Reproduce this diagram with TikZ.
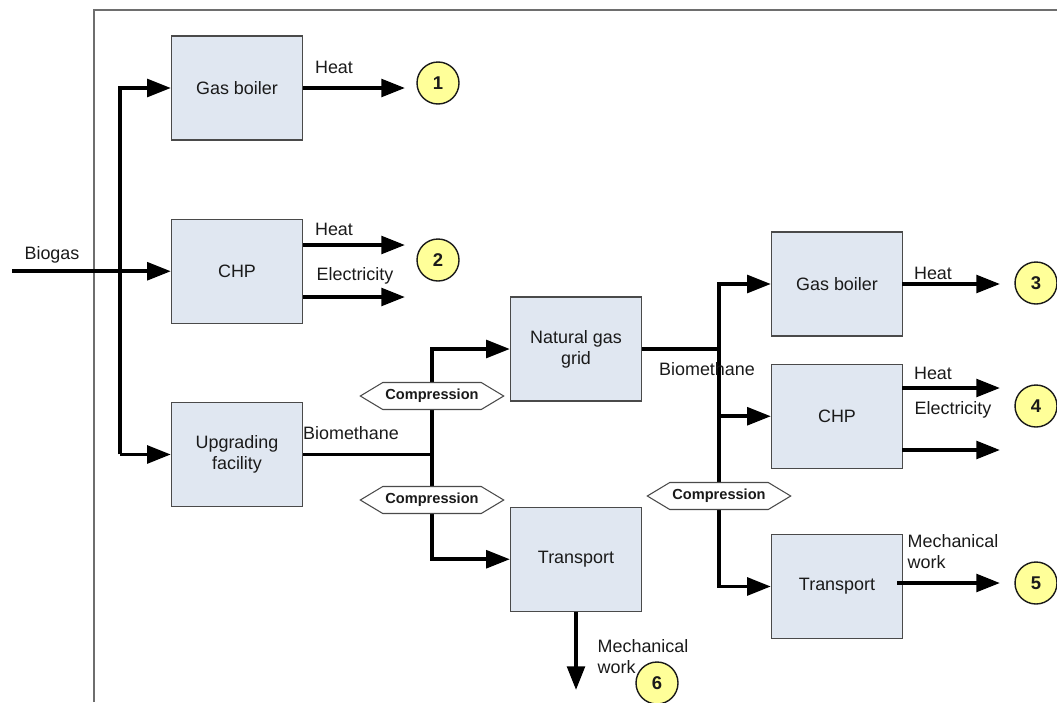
\documentclass[tikz,border=0pt]{standalone}
\usepackage{fontspec}
\setmainfont{Liberation Sans}
\usepackage{tikz}
\usetikzlibrary{arrows.meta,positioning,shapes.symbols}
\definecolor{ink}{HTML}{1A1A1A}
\definecolor{edge}{HTML}{4A4A4A}
\definecolor{frame}{HTML}{6E6E6E}
\definecolor{unitfill}{HTML}{E0E7F1}
\definecolor{numfill}{HTML}{FFFF99}
\tikzset{
  unit/.style={draw=edge,line width=0.7pt,fill=unitfill,align=center,font=\fontsize{10.2}{11.9}\selectfont,text=ink,minimum width=26.2mm,minimum height=20.8mm,inner sep=2pt},
  comp/.style={draw=edge,line width=0.6pt,fill=white,signal,signal to=east and west,signal pointer angle=62,minimum width=26.6mm,minimum height=5.4mm,inner sep=1.5pt,font=\fontsize{8.3}{10}\selectfont\bfseries,text=ink},
  num/.style={draw=ink,line width=0.8pt,fill=numfill,circle,minimum size=8.4mm,inner sep=0pt,font=\fontsize{10.5}{12}\selectfont\bfseries,text=ink},
  flow/.style={-{Triangle[length=13.5pt,width=10pt]},line width=2.2pt,draw=black},
  pipe/.style={line width=2.2pt,draw=black},
  lbl/.style={font=\fontsize{10.2}{11.9}\selectfont,text=ink,inner sep=1pt,align=left},
  border/.style={draw=frame,line width=0.9pt}
}

\begin{document}
\begin{tikzpicture}[x=0.2mm,y=-0.2mm]
  \useasboundingbox (0,0) rectangle (1057,702);
  \coordinate (fa) at (94,702); \coordinate (fb) at (94,10); \coordinate (fc) at (1057,10);
  \draw[border] (fa) -- (fb) -- (fc);

  \node[unit] (boilA) at (237,88) {Gas boiler};
  \node[unit, below=15.6mm of boilA] (chpA) {CHP};
  \node[unit, below=15.6mm of chpA] (upg) {Upgrading\\facility};
  \node[unit] (grid) at (576,349) {Natural gas\\grid};
  \node[unit, below=21mm of grid] (trA) {Transport};
  \node[unit] (boilB) at (837,284) {Gas boiler};
  \node[unit, below=5.4mm of boilB] (chpB) {CHP};
  \node[unit, below=13mm of chpB] (trB) {Transport};

  \node[num] (n1) at (438,83) {1};
  \node[num] (n2) at (438,260) {2};
  \node[num] (n3) at (1036,283) {3};
  \node[num] (n4) at (1036,406) {4};
  \node[num] (n5) at (1036,583) {5};
  \node[num] (n6) at (657,683) {6};

  \coordinate (bio) at (12,270);
  \coordinate (busA) at (120,270);
  \coordinate (busB) at (432,453);
  \coordinate (busC) at (719,349);
  \coordinate (hA1) at (303,88);   \coordinate (hA2) at (405,88);
  \coordinate (hB1) at (303,245);  \coordinate (hB2) at (405,245);
  \coordinate (eB1) at (303,297);  \coordinate (eB2) at (405,297);
  \coordinate (hC1) at (902,284);  \coordinate (hC2) at (1000,284);
  \coordinate (hD1) at (902,388);  \coordinate (hD2) at (1000,388);
  \coordinate (eD1) at (902,450);  \coordinate (eD2) at (1000,450);
  \coordinate (mE1) at (897,583);  \coordinate (mE2) at (1000,583);
  \coordinate (mF) at (576,690);

  \draw[flow] (bio |- chpA.west) -- (chpA.west);
  \draw[flow] (busA |- upg.west) |- (boilA.west);
  \draw[flow] (busA |- upg.west) -- (upg.west);
  \draw[flow] (hA1) -- (hA2);
  \draw[flow] (hB1) -- (hB2);
  \draw[flow] (eB1) -- (eB2);
  \draw[pipe] (upg.east) -- (busB |- upg.east);
  \draw[flow] (busB |- upg.east) |- (grid.west);
  \draw[flow] (busB |- upg.east) |- (trA.west);
  \draw[flow] (trA.south) -- (mF);
  \draw[pipe] (grid.east) -- (busC);
  \draw[flow] (busC) |- (boilB.west);
  \draw[flow] (busC) |- (chpB.west);
  \draw[flow] (busC) |- (trB.west);
  \draw[flow] (hC1) -- (hC2);
  \draw[flow] (hD1) -- (hD2);
  \draw[flow] (eD1) -- (eD2);
  \draw[flow] (mE1) -- (mE2);

  \node[comp] (cA) at (432,396) {Compression};
  \node[comp] (cB) at (432,500) {Compression};
  \node[comp] (cC) at (719,496) {Compression};

  \node[lbl] (tBio) at (52,255) {Biogas};
  \node[lbl] (tHA) at (334,67) {Heat};
  \node[lbl] (tHB) at (334,229) {Heat};
  \node[lbl] (tEB) at (355,276) {Electricity};
  \node[lbl] (tMA) at (351,433) {Biomethane};
  \node[lbl] (tMB) at (707,369) {Biomethane};
  \node[lbl] (tHC) at (933,273) {Heat};
  \node[lbl] (tHD) at (933,373) {Heat};
  \node[lbl] (tED) at (953,410) {Electricity};
  \node[lbl] (tWE) at (953,552) {Mechanical\\work};
  \node[lbl] (tWF) at (643,657) {Mechanical\\work};
\end{tikzpicture}
\end{document}
